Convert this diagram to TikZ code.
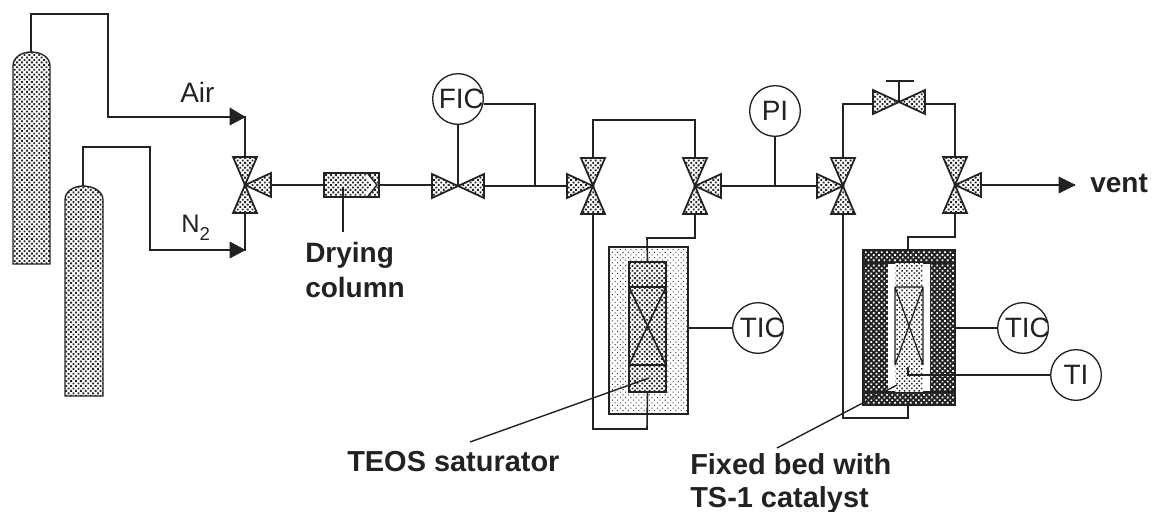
\documentclass[tikz,border=0pt]{standalone}
\usepackage{fontspec}
\setmainfont{Liberation Sans}
\usetikzlibrary{patterns.meta,arrows.meta,calc}
\definecolor{ink}{HTML}{222222}
\newcommand{\insttext}[2]{\makebox[0pt][c]{\hspace{#2}#1}}
\tikzset{
  mid/.style={preaction={fill=white},pattern={Dots[radius=0.98pt,distance=2.6pt,angle=45]},pattern color=ink},
  bedfill/.style={preaction={fill=white},pattern={Dots[radius=0.8pt,distance=2.6pt,angle=45]},pattern color=ink},
  lite/.style={preaction={fill=white},pattern={Dots[radius=0.55pt,distance=2.8pt,angle=45]},pattern color=ink!90},
  darkfill/.style={preaction={fill=ink},pattern={Dots[radius=0.9pt,distance=2.8pt,angle=45]},pattern color=white},
  pipe/.style={draw=ink,line width=1.2pt,line join=miter},
  thin pipe/.style={draw=ink,line width=1.05pt},
  tri/.style={draw=ink,line width=1.3pt,mid,line join=miter},
  inst/.style={circle,draw=ink,line width=1pt,minimum size=38pt,inner sep=0pt,font=\fontsize{21}{23}\selectfont,text=ink},
  lab/.style={anchor=base west,inner sep=0pt,font=\fontsize{21}{23}\selectfont,text=ink},
  blab/.style={anchor=base west,inner sep=0pt,font=\fontsize{21.7}{24}\selectfont\bfseries,text=ink},
  slab/.style={blab,font=\fontsize{21}{23}\selectfont\bfseries},
  head/.style={fill=ink,draw=ink,line width=0.4pt},
  vup/.pic={\path[tri] (0,0)--(-12,-28)--(12,-28)--cycle;},
  vdown/.pic={\path[tri] (0,0)--(-12,28)--(12,28)--cycle;},
  vleft/.pic={\path[tri] (0,0)--(-26,-12)--(-26,12)--cycle;},
  vright/.pic={\path[tri] (0,0)--(26,-12)--(26,12)--cycle;},
}
\begin{document}
\begin{tikzpicture}[x=0.75pt,y=-0.75pt]
\useasboundingbox (0,0) rectangle (1152,511);
% cylinders
\path[mid,draw=ink,line width=1pt] (13,264)--(13,66) .. controls (13,57) and (22,52) .. (31,52) .. controls (41,52) and (50,57) .. (50,66)--(50,264)--cycle;
\path[mid,draw=ink,line width=1pt] (65,396)--(65,200) .. controls (65,191) and (74,186) .. (83,186) .. controls (93,186) and (103,191) .. (103,200)--(103,396)--cycle;
\coordinate (cylA) at (31,52);
\coordinate (cylB) at (83,186);
% valve centres
\coordinate (v1) at (245,185);
\coordinate (fv) at (458,186);
\coordinate (v2) at (593,186);
\coordinate (v3) at (695,186);
\coordinate (v4) at (843,186);
\coordinate (v5) at (955,185);
\coordinate (v6) at (899,102);
% pipes
\coordinate (airT) at (245,117);
\coordinate (n2T) at (245,250);
\draw[pipe] (cylA)--(31,14)--(108,14)--(108,117)--(airT)--(245,157);
\draw[pipe] (cylB)--(83,147)--(150,147)--(150,250)--(n2T)--(245,213);
\path[head] (245,117)--(230,108)--(230,125)--cycle;
\path[head] (245,250)--(230,242)--(230,258)--cycle;
% drying column
\node[draw=ink,line width=1.3pt,mid,minimum width=41.25pt,minimum height=18pt,inner sep=0pt] (dry) at (351.5,185) {};
\fill[white] (369,175)--(376,185)--(369,195)--(365,195)--(372,185)--(365,175)--cycle;
\draw[ink,line width=1pt] (368,174)--(377,185)--(368,196);
\coordinate (dryL) at (343,187);
\coordinate (dryEnd) at (343,232);
\draw[pipe] (269,185)--(dry.west);
\draw[pipe] (dry.east)--(432,185);
\draw[pipe] (dryL)--(dryEnd);
% FIC
\node[inst] (fic) at (458,99) {\insttext{FIC}{5pt}};
\draw[pipe] (fv)--(fic.south);
\draw[pipe] (484,104)--(535,104)--(535,186);
\draw[pipe] (484,186)--(568,186);
% bypass 1
\draw[pipe] (593,158)--(593,120)--(695,120)--(695,158);
\draw[pipe] (721,186)--(817,186);
\node[inst] (pi) at (775,111) {PI};
\draw[pipe] (pi.south)--(775,186);
% bypass 2
\draw[pipe] (843,158)--(843,104)--(873,104);
\draw[pipe] (925,104)--(955,104)--(955,157);
\draw[pipe] (v6)--(899,81);
\draw[pipe] (886,81)--(914,81);
% vent
\coordinate (ventTip) at (1075,185);
\draw[pipe] (981,185)--(ventTip);
\path[head] (1075,185)--(1059,177)--(1059,193)--cycle;
% saturator
\node[draw=ink,line width=1.2pt,lite,minimum width=59.25pt,minimum height=125pt,inner sep=0pt] (satO) at (648.5,330.5) {};
\node[draw=ink,line width=1.3pt,mid,minimum width=27.75pt,minimum height=97.5pt,inner sep=0pt] (satI) at (647.5,327) {};
\draw[ink,line width=1.2pt] (629,287)--(666,287) (629,365)--(666,365);
\draw[ink,line width=1.2pt] (629,287)--(666,365) (666,287)--(629,365);
\foreach \tx in {632,637,...,664} \draw[ink,line width=0.6pt] (\tx,287)--(\tx,284);
\draw[pipe] (695,214)--(695,238)--(647,238)--(satI.north);
\draw[pipe] (satI.south)--(647,429)--(593,429)--(593,214);
\node[inst] (tic1) at (758,328) {\insttext{TIC}{6.5pt}};
\draw[thin pipe] (satO.east |- tic1)--(tic1.west);
\coordinate (satLead) at (649,378);
\coordinate (satEnd) at (470,442);
\draw[thin pipe] (satLead)--(satEnd);
% reactor
\path[darkfill,draw=ink,line width=1.2pt] (863,250) rectangle (955,405);
\fill[white] (888,263) rectangle (930,392);
\draw[ink,line width=1.2pt] (863,263)--(955,263) (863,392)--(955,392);
\path[bedfill] (895,263) rectangle (923,392);
\draw[ink,line width=0.9pt] (895,287)--(923,287) (895,287)--(923,365) (923,287)--(895,365) (895,287)--(895,365) (923,287)--(923,365);
\coordinate (rTop) at (908,250);
\coordinate (rBot) at (908,405);
\draw[pipe] (955,214)--(955,237)--(908,237)--(rTop);
\draw[pipe] (rBot)--(908,418)--(843,418)--(843,214);
\node[inst] (tic2) at (1023,328) {\insttext{TIC}{6.5pt}};
\draw[thin pipe] (955,328)--(tic2.west);
\node[inst] (ti) at (1076,375) {TI};
\draw[thin pipe] (908,367)--(908,375)--(ti.west);
\coordinate (bedLead) at (897,385);
\coordinate (bedEnd) at (777,448);
\draw[thin pipe] (bedLead)--(bedEnd);
% valves
\pic at (v1) {vup}; \pic at (v1) {vdown}; \pic at (v1) {vright};
\pic at (fv) {vleft}; \pic at (fv) {vright};
\pic at (v2) {vup}; \pic at (v2) {vdown}; \pic at (v2) {vleft};
\pic at (v3) {vup}; \pic at (v3) {vdown}; \pic at (v3) {vright};
\pic at (v4) {vup}; \pic at (v4) {vdown}; \pic at (v4) {vleft};
\pic at (v5) {vup}; \pic at (v5) {vdown}; \pic at (v5) {vright};
\pic at (v6) {vleft}; \pic at (v6) {vright};
% labels
\node[lab] (air) at (180,102) {Air};
\node[lab,font=\fontsize{19}{21}\selectfont] (ntwo) at (181,232) {N\raisebox{-6.5pt}{\fontsize{14}{15}\selectfont 2}};
\node[slab] (dl1) at (305,262) {Drying};
\node[slab] (dl2) at (305,297) {column};
\node[slab] (vent) at (1090,192) {vent};
\node[blab] (teos) at (347,471) {TEOS saturator};
\node[blab] (fb1) at (690,474) {Fixed bed with};
\node[blab] (fb2) at (690,507) {TS-1 catalyst};
\end{tikzpicture}
\end{document}
